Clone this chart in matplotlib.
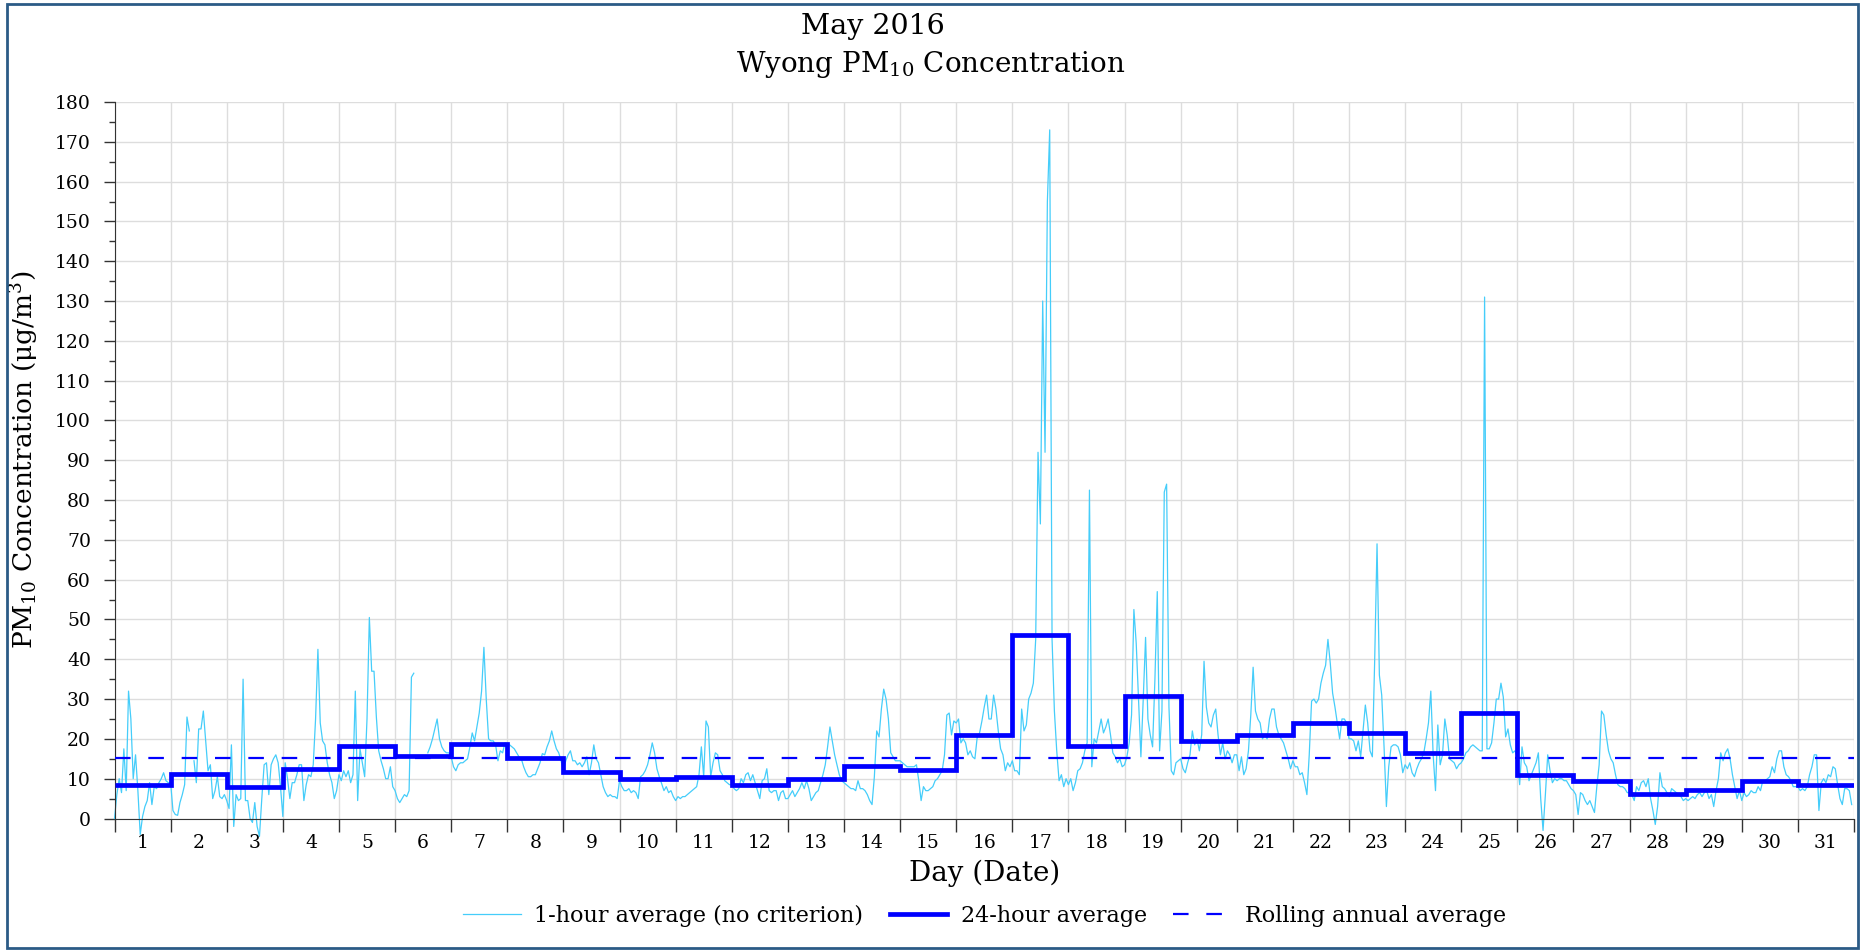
import numpy as np
import matplotlib
matplotlib.use("Agg")
import matplotlib.pyplot as plt
from matplotlib.ticker import MultipleLocator, FixedLocator, NullFormatter
from matplotlib.patches import Rectangle

plt.rcParams['font.family'] = ['DejaVu Serif']
plt.rcParams['mathtext.fontset'] = 'dejavuserif'

nan = np.nan

# PM10 1-hour averages, 24 values per day (May 1 .. May 31), gaps = nan
hourly = [
    0, 6, 10, 6.5, 17.5, 7, 32, 25, 10, 16, 7, -4, 0.5, 3, 4.5, 9, 3.5, 8, 7.5, 9, 10, 11.5, 9.5, 9,
    9, 2, 1, 0.8, 4, 6, 8.5, 25.5, 22, nan, 14.5, 9, 22.5, 22.5, 27, 19.5, 12, 13.5, 5, 7, 10.5, 5.5, 5, 6,
    4.5, 2.5, 18.5, -2, 6, 4.5, 5, 35, 4.5, 4.5, 0, -1, 4, -2, -4.5, 5, 13.5, 14, 6, 13.5, 15, 16, 14, 8,
    0.5, 14, 10, 5, 9, 9, 11, 13.5, 13.5, 4.5, 8.5, 11, 10.5, 13.5, 25, 42.5, 24, 19.5, 18.5, 14, 11, 9, 5, 7,
    11, 9.5, 12, 10.5, 12, 9, 11, 32, 4.5, 17.5, 14, 10.5, 25, 50.5, 37, 37, 25.5, 17, 14.5, 12.5, 10, 10, 13, 8,
    7, 5, 4, 5, 6, 5.5, 7, 35.5, 36.5, nan, nan, nan, nan, nan, 16.5, 18, 20, 22.5, 25, 20, 18, 17, 16.5, 16.5,
    15.5, 13, 12, 13.5, 14, 14, 14.5, 15, 18, 21.5, 19.5, 23, 26.5, 32, 43, 30, 20, 19.5, 19.5, 18.5, 14.5, 17, 16.5, 19,
    18.8, 18.5, 18, 17.5, 16.5, 15.5, 15, 13, 11.5, 10.5, 10.5, 11, 11, 12.5, 14, 16.3, 16, 18, 19.5, 22, 19.5, 17.5, 16.5, 14.5,
    12, 14.5, 16, 17, 14.5, 14.5, 13.5, 14, 13, 14, 15.5, 11, 14, 18.5, 15, 14, 11, 8, 6.5, 5.5, 6, 5.5, 5.5, 5,
    9.5, 8, 7, 7, 7.5, 6.5, 7, 6.5, 5, 10.5, 11, 12, 13.5, 16, 19, 16.5, 12.5, 10.5, 8.8, 7, 8, 6.5, 7, 5.5,
    4.5, 5.5, 5, 5.5, 5.5, 6, 6.5, 7, 7.5, 8, 11, 18, 10.5, 24.5, 23, 10.5, 14, 16.5, 16, 12, 11, 9.5, 9, 8.5,
    8.5, 7.5, 7, 7.5, 10, 9, 11, 11.5, 9.5, 11, 9, 7, 5, 9.5, 10, 12.5, 7, 6.5, 7, 7, 4.5, 6.5, 7, 5,
    5, 6, 7, 5.5, 6.5, 7.5, 9, 7.5, 9.5, 7.5, 4.5, 5.5, 6.5, 7, 9, 11, 13.5, 18, 23, 19.5, 16, 13.5, 11, 9.5,
    9, 8.5, 8, 7.5, 7.5, 7, 9.5, 7.5, 7.5, 7, 6, 4.5, 3.5, 10.5, 22, 20.5, 27.5, 32.5, 30, 25, 16.5, 15.5, 14.5, 14.5,
    14.5, 14, 13.5, 13, 13, 13, 13, 13.5, 9.5, 4.5, 8, 7, 7, 7.5, 8, 9.5, 10, 11, 12, 16, 26, 26.5, 21, 24.5,
    24, 25, 19, 20, 19, 16, 17, 15.5, 15, 20.5, 21.5, 24.5, 28, 31, 25, 25, 31, 27.5, 22, 17.5, 16, 12, 14, 13,
    14.5, 12, 12, 11, 27.5, 22, 23.5, 30, 31.5, 34, 45, 92, 74, 130, 92, 155, 173, 45, 27, 17, 9.5, 11, 8, 10,
    8.5, 10, 7, 9, 12, 12.5, 14, 17, 19, 82.5, 13, 20, 19, 22, 25, 21.5, 23, 25, 21, 16.5, 15.5, 14, 15, 13,
    13.5, 15.5, 19, 26, 52.5, 44, 29.5, 15.5, 30, 45.5, 25, 21, 18, 35, 57, 17, 27, 82, 84, 28, 12, 11, 14, 14.5,
    15, 12.5, 11.5, 14, 16, 22, 18.5, 20, 17, 21, 39.5, 28, 24, 23, 26, 27.5, 21, 16, 19, 15, 17, 16, 14, 16,
    16, 12, 15.5, 11, 12.5, 17, 26, 38, 27, 25, 24, 20, 21, 20, 25, 27.5, 27.5, 23, 21, 20, 19, 17, 15, 12.5,
    14.5, 13, 13, 11, 11.5, 9, 6, 16, 29.5, 30, 29, 30, 34, 36.5, 38.5, 45, 39, 31.5, 28, 24, 20, 25, 25, 24,
    20, 20, 19.5, 17, 19.5, 15.5, 22, 28.5, 24, 17, 15.5, 40, 69, 36, 31, 18, 3, 13, 18, 18.5, 18.5, 18, 16, 11.5,
    13.5, 12.5, 14, 11.5, 10.5, 12.5, 14, 15, 16.5, 20, 24, 32, 16, 7, 23.5, 13.5, 16, 25, 21, 15, 14.5, 14, 12.5, 13.5,
    14, 15, 16.5, 17, 18, 18.5, 18, 17.5, 17, 17, 131, 17.5, 17.5, 19, 24, 30, 30, 34, 30.5, 20.5, 22.5, 18.5, 16.5, 17,
    15.5, 8.5, 18, 14, 13, 9.5, 11, 12.5, 14, 16.5, 5, -3, 6, 16, 12, 9, 10, 9.5, 10, 10, 9.5, 9.5, 8.5, 7.5,
    7, 6, 1, 6.5, 6, 4.5, 3.5, 4.5, 3, 1.5, 8, 13.5, 27, 26, 21, 17, 15, 14, 11, 8.5, 8, 8, 7.5, 6.5,
    6.5, 6, 4.5, 8, 7, 9, 9.5, 8, 10, 5, 2, -1.5, 3, 11.5, 8, 7.5, 6.5, 5.5, 7.5, 7, 6.5, 6, 5.5, 4.5,
    5, 4.5, 5, 5.5, 5, 6, 6.5, 5.5, 6.5, 7, 5, 6, 3, 7, 10, 16.5, 14.5, 16.5, 17.5, 15, 11, 8, 5, 7,
    4.5, 6.5, 5.5, 6, 7, 6.5, 6.5, 8, 7, 9.5, 9.5, 10, 10.5, 13, 11.5, 15, 17, 17, 13, 11, 10.5, 9.5, 8, 8,
    8, 7, 7.5, 7, 8, 11, 13, 16, 16, 2, 9, 10, 9, 11, 10.5, 13, 12.5, 8.5, 5, 3.5, 7.5, 7.5, 7, 3.5,
]

# 24-hour averages per day
avg_24h = [8.3, 11.3, 7.8, 12.5, 18.3, 15.8, 18.8, 15.3, 11.7, 10.0, 10.4, 8.3, 9.8, 13.3, 12.3, 21.1,
           46.1, 18.3, 30.9, 19.5, 20.9, 24.1, 21.6, 16.4, 26.6, 11.0, 9.3, 6.1, 7.2, 9.5, 8.5]

# rolling annual average per day
rolling_annual = [15.1] * 15 + [15.2] * 7 + [15.3] * 9

day_labels = [str(d) for d in range(1, 32)]

W, H = 1861, 950
fig = plt.figure(figsize=(W / 100, H / 100), dpi=100)
ax = fig.add_axes([114.5 / W, 1 - 818.5 / H, (1854 - 114.5) / W, (818.5 - 102) / H])

x_hour = np.arange(len(hourly)) / 24.0
edges = np.arange(len(avg_24h) + 1)

ax.plot(x_hour, hourly, color='#45cdfa', lw=0.9, clip_on=False, zorder=2,
        label='1-hour average (no criterion)')
ax.stairs(avg_24h, edges, baseline=None, color='#0000ff', lw=3.4, zorder=4,
          label='24-hour average')
ax.plot(edges, rolling_annual + [rolling_annual[-1]], drawstyle='steps-post',
        color='#0000ff', lw=1.6, dashes=(7, 8), zorder=3, label='Rolling annual average')

ax.set_xlim(0, 31)
ax.set_ylim(0, 180)

# x ticks: boundaries as major, labels centred on days
ax.xaxis.set_major_locator(FixedLocator(edges))
ax.xaxis.set_major_formatter(NullFormatter())
ax.xaxis.set_minor_locator(FixedLocator(np.arange(31) + 0.5))
ax.set_xticklabels(day_labels, minor=True)
ax.tick_params(axis='x', which='major', direction='out', length=9.5, width=1, color='#333333')
ax.tick_params(axis='x', which='minor', length=0, pad=11, labelsize=13.5)

ax.yaxis.set_major_locator(MultipleLocator(10))
ax.yaxis.set_minor_locator(MultipleLocator(5))
ax.tick_params(axis='y', which='major', direction='out', length=8, width=1, color='#333333',
               labelsize=13.5, pad=9)
ax.tick_params(axis='y', which='minor', direction='out', length=4, width=1, color='#333333')

ax.grid(True, which='major', color='#dddddd', lw=1)
ax.set_axisbelow(True)
for s in ['top', 'right']:
    ax.spines[s].set_visible(False)
for s in ['left', 'bottom']:
    ax.spines[s].set_color('#333333')

ax.set_ylabel('PM$_{10}$ Concentration (\u03bcg/m$^3$)', fontsize=19, labelpad=10)
ax.set_xlabel('Day (Date)', fontsize=20, labelpad=6)

fig.text(0.469, 1 - 26 / H, 'May 2016', ha='center', va='center', fontsize=20.5)
fig.text(0.5, 1 - 65 / H, 'Wyong PM$_{10}$ Concentration', ha='center', va='center', fontsize=20)

cx = (114.5 + 1854) / 2 / W
fig.legend(loc='center', bbox_to_anchor=(cx, 1 - 916 / H), ncol=3, frameon=False,
           fontsize=16, handlelength=2.6, columnspacing=1.2, handletextpad=0.6)

fig.patches.append(Rectangle((7 / W, 2 / H), (1858 - 7) / W, (947 - 3) / H,
                             transform=fig.transFigure, fill=False,
                             edgecolor='#2b5b86', lw=2))

fig.savefig('out.png', dpi=100)
